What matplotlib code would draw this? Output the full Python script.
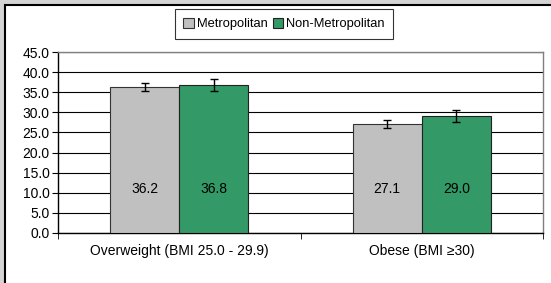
import matplotlib
matplotlib.use('Agg')
import matplotlib.pyplot as plt
import numpy as np
from matplotlib.patches import Rectangle

plt.rcParams['font.family'] = ['Liberation Sans', 'DejaVu Sans']

categories = ['Overweight (BMI 25.0 - 29.9)', 'Obese (BMI \u226530)']
series = ['Metropolitan', 'Non-Metropolitan']
metro = [36.2, 27.1]
nonmetro = [36.8, 29.0]
metro_err = [1.0, 1.0]
nonmetro_err = [1.5, 1.5]
yticks = np.arange(0, 45.1, 5)

fig = plt.figure(figsize=(5.51, 2.83), dpi=100)
fig.patch.set_facecolor('#d4d4d4')
# white panel, only its left and top frame show inside the picture
fig.add_artist(Rectangle((5/551, -0.1), 1.1, 1.1 - 5/283, transform=fig.transFigure,
                         facecolor='white', edgecolor='black', lw=1.5, zorder=-1))

ax = fig.add_axes([58/551, 50/283, 485/551, 181/283])
x = np.arange(len(categories))
w = 0.285
ax.bar(x - w/2, metro, w, color='#c0c0c0', edgecolor='#333333', lw=0.8,
       label=series[0], zorder=3)
ax.bar(x + w/2, nonmetro, w, color='#339966', edgecolor='#222222', lw=0.8,
       label=series[1], zorder=3)
ax.errorbar(x - w/2, metro, yerr=metro_err, fmt='none', ecolor='black',
            elinewidth=1, capsize=3, capthick=1, zorder=4)
ax.errorbar(x + w/2, nonmetro, yerr=nonmetro_err, fmt='none', ecolor='black',
            elinewidth=1, capsize=3, capthick=1, zorder=4)

for i in range(len(categories)):
    ax.text(x[i] - w/2, 11, '%.1f' % metro[i], ha='center', va='center', fontsize=10, zorder=5)
    ax.text(x[i] + w/2, 11, '%.1f' % nonmetro[i], ha='center', va='center', fontsize=10, zorder=5)

ax.set_xlim(-0.5, 1.5)
ax.set_ylim(0, 45)
ax.set_yticks(yticks)
ax.set_yticklabels(['%.1f' % v for v in yticks], fontsize=10)
ax.yaxis.grid(True, color='black', lw=0.8, zorder=0)
ax.set_axisbelow(True)

ax.set_xticks(x)
ax.set_xticklabels(categories, fontsize=10)
ax.tick_params(axis='x', which='major', length=0, pad=8)
ax.set_xticks([-0.5, 0.5, 1.5], minor=True)
ax.tick_params(axis='x', which='minor', length=4, direction='out')
ax.tick_params(axis='y', length=4, direction='out', pad=2)

ax.spines['top'].set_color('#808080')
ax.spines['right'].set_color('#808080')
ax.spines['left'].set_color('black')
ax.spines['bottom'].set_color('black')
for s in ax.spines.values():
    s.set_linewidth(1)

leg = fig.legend(loc='center', bbox_to_anchor=(284/551, 1 - 24/283), ncol=2,
                 fontsize=9.3, frameon=True, fancybox=False, handlelength=0.8,
                 handleheight=0.8, handletextpad=0.25, columnspacing=0.4,
                 borderpad=0.65, borderaxespad=0, edgecolor='black')
leg.get_frame().set_linewidth(0.8)

fig.savefig('out.png', dpi=100, facecolor=fig.get_facecolor())
